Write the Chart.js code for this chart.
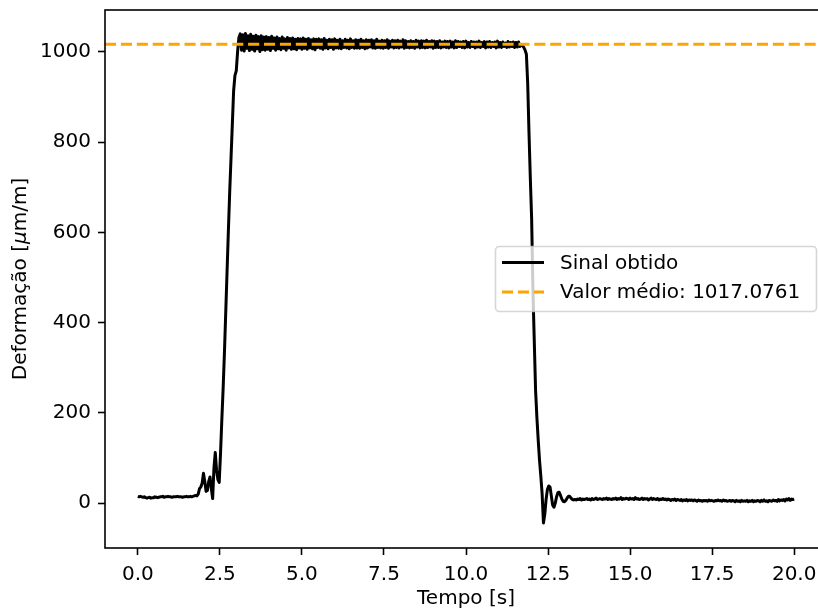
<!DOCTYPE html>
<html>
<head>
<meta charset="utf-8">
<script src="https://cdn.jsdelivr.net/npm/chart.js@4/dist/chart.umd.min.js"></script>
<style>
  html, body { margin: 0; padding: 0; background: #fff; overflow: hidden; }
  #wrap { width: 830px; height: 609px; position: relative; }
</style>
</head>
<body>
<div id="wrap"><canvas id="c" width="830" height="609"></canvas></div>
<script>
// Strain gauge record, sampled every 0.04 s (0 .. 20 s)
const sampleInterval = 0.04;

const signal = [
  // 0.00 – 1.76 s : baseline
  15,14,15,14,13,14,12,11,12,13,
  11,12,12,14,13,12,13,14,14,15,
  13,14,14,15,14,14,13,14,14,14,
  15,14,14,14,13,14,14,15,14,14,
  15,14,15,16,17,
  // 1.80 – 3.08 s : loading ramp
  16,20,32,36,44,66,48,26,28,48,
  58,32,10,78,112,72,52,46,110,185,
  255,335,425,515,605,690,765,840,915,948,
  958,1000,1032,
  // 3.12 – 11.68 s : loaded plateau
  1040,1004,1038,1002,1041,1008,1036,1003,1039,1006,
  1035,1002,1037,1007,1034,1001,1036,1005,1033,1004,
  1034,1006,1032,1003,1035,1008,1031,1004,1033,1007,
  1030,1005,1033,1008,1029,1004,1032,1009,1030,1006,
  1031,1007,1028,1005,1030,1009,1029,1006,1031,1008,
  1028,1006,1030,1009,1027,1007,1029,1005,1028,1010,
  1029,1008,1027,1006,1030,1009,1026,1007,1028,1010,
  1027,1006,1029,1009,1026,1008,1028,1007,1025,1010,
  1028,1009,1026,1007,1029,1010,1025,1008,1027,1009,
  1026,1008,1028,1010,1025,1007,1027,1009,1026,1011,
  1027,1009,1025,1008,1028,1010,1024,1009,1026,1008,
  1025,1010,1027,1008,1024,1011,1026,1009,1025,1010,
  1026,1009,1024,1011,1027,1008,1025,1010,1023,1009,
  1025,1010,1023,1008,1026,1011,1024,1009,1025,1010,
  1024,1009,1026,1010,1023,1011,1025,1008,1024,1010,
  1023,1010,1025,1009,1022,1011,1024,1010,1023,1009,
  1024,1011,1022,1009,1025,1010,1023,1012,1022,1010,
  1023,1009,1024,1011,1021,1010,1023,1012,1022,1009,
  1022,1011,1024,1010,1021,1012,1023,1009,1022,1011,
  1023,1010,1021,1012,1022,1009,1024,1011,1021,1010,
  1022,1012,1020,1010,1023,1011,1021,1012,1022,1010,
  1021,1011,1022,1012,1015,
  // 11.72 – 13.28 s : unloading and ringing
  1014,1010,1004,995,930,820,720,630,470,360,
  250,190,140,95,60,20,-44,-25,8,30,
  38,36,16,-4,-9,0,14,23,24,17,
  9,4,3,6,11,15,15,11,8,7,
  // 13.32 – 20.00 s : residual baseline
  8,7,9,8,10,7,9,8,9,10,
  8,9,7,10,8,9,11,8,9,10,
  9,8,10,9,11,8,10,9,8,10,
  9,11,8,10,9,12,8,10,9,11,
  10,8,11,9,10,8,12,9,10,8,
  9,11,8,10,9,10,7,9,11,8,
  10,9,8,10,7,9,8,10,8,9,
  7,9,8,6,8,7,9,6,8,7,
  6,8,5,7,6,8,5,7,6,7,
  5,7,6,4,7,5,6,4,6,5,
  6,4,7,5,6,5,4,6,5,7,
  5,6,4,7,5,6,4,5,6,4,
  6,5,3,6,4,5,3,6,4,5,
  4,6,3,5,4,6,3,5,4,6,
  5,3,6,4,7,4,5,3,6,5,
  4,7,5,6,4,8,5,7,6,8,
  5,9,7,10,6,9,8,9
];

const meanValue = 1017.0761;
const xTicks = [0, 2.5, 5, 7.5, 10, 12.5, 15, 17.5, 20];
const yTicks = [0, 200, 400, 600, 800, 1000];
const xRange = [-1, 21];
const yRange = [-99.5, 1093];
const seriesLabels = ['Sinal obtido', 'Valor médio: ' + meanValue.toFixed(4)];
const xTitle = 'Tempo [s]';
const yTitleParts = [['Deformação [', false], ['μ', true], ['m/m]', false]];

const FONT = "'DejaVu Sans', 'Liberation Sans', sans-serif";
const SIGNAL_COLOR = '#000000';
const MEAN_COLOR = '#FFA500';

Chart.defaults.font.family = FONT;
Chart.defaults.font.size = 20;
Chart.defaults.color = '#000';

// spines, axis titles and the legend box
const decorations = {
  id: 'decorations',
  afterDatasetsDraw(chart) {
    const { ctx, chartArea: a } = chart;
    ctx.save();
    ctx.strokeStyle = '#000';
    ctx.lineWidth = 1.6;
    ctx.strokeRect(a.left, a.top, a.right - a.left, a.bottom - a.top);
    ctx.restore();
  },
  afterDraw(chart) {
    const { ctx, chartArea: a } = chart;
    ctx.save();
    ctx.fillStyle = '#000';
    ctx.textBaseline = 'middle';

    // x title
    ctx.font = '20px ' + FONT;
    ctx.textAlign = 'center';
    ctx.fillText(xTitle, (a.left + a.right) / 2, 599);

    // y title (rotated, with italic mu)
    const fontOf = it => (it ? 'italic ' : '') + '20px ' + FONT;
    let total = 0;
    yTitleParts.forEach(([t, it]) => { ctx.font = fontOf(it); total += ctx.measureText(t).width; });
    ctx.translate(21, (a.top + a.bottom) / 2);
    ctx.rotate(-Math.PI / 2);
    ctx.textAlign = 'left';
    let x = -total / 2;
    yTitleParts.forEach(([t, it]) => {
      ctx.font = fontOf(it);
      ctx.fillText(t, x, 0);
      x += ctx.measureText(t).width;
    });
    ctx.restore();

    // legend
    const box = { l: 495, t: 246, r: 816, b: 311, rad: 4 };
    ctx.save();
    ctx.beginPath();
    ctx.roundRect(box.l + 0.5, box.t + 0.5, box.r - box.l, box.b - box.t, box.rad);
    ctx.fillStyle = 'rgba(255,255,255,0.8)';
    ctx.fill();
    ctx.lineWidth = 1.6;
    ctx.strokeStyle = 'rgba(204,204,204,0.8)';
    ctx.stroke();

    const rows = [262.5, 292];
    chart.data.datasets.forEach(ds => {
      const y = rows[ds.legendRow];
      ctx.beginPath();
      ctx.setLineDash(ds.borderDash || []);
      ctx.lineWidth = ds.borderWidth;
      ctx.strokeStyle = ds.borderColor;
      ctx.lineCap = 'butt';
      ctx.moveTo(502, y);
      ctx.lineTo(544, y);
      ctx.stroke();
      ctx.setLineDash([]);
      ctx.fillStyle = '#000';
      ctx.font = '20px ' + FONT;
      ctx.textAlign = 'left';
      ctx.textBaseline = 'middle';
      ctx.fillText(ds.label, 560, y + 1);
    });
    ctx.restore();
  }
};

new Chart(document.getElementById('c'), {
  type: 'line',
  data: {
    datasets: [
      {
        label: seriesLabels[0],
        legendRow: 0,
        data: signal.map((v, i) => ({ x: +(i * sampleInterval).toFixed(2), y: v })),
        borderColor: SIGNAL_COLOR,
        borderWidth: 3,
        borderJoinStyle: 'round',
        pointRadius: 0,
        tension: 0,
        order: 1
      },
      {
        label: seriesLabels[1],
        legendRow: 1,
        data: [{ x: xRange[0], y: meanValue }, { x: xRange[1], y: meanValue }],
        borderColor: MEAN_COLOR,
        borderWidth: 3,
        borderDash: [11.1, 4.8],
        borderCapStyle: 'butt',
        pointRadius: 0,
        order: 0
      }
    ]
  },
  options: {
    responsive: false,
    animation: false,
    devicePixelRatio: 1,
    layout: { padding: { left: 0, right: 3, top: 10, bottom: 0 } },
    plugins: { legend: { display: false }, tooltip: { enabled: false } },
    scales: {
      x: {
        type: 'linear',
        min: xRange[0],
        max: xRange[1],
        afterBuildTicks: s => { s.ticks = xTicks.map(v => ({ value: v })); },
        afterFit: s => { s.height = 61; s.paddingLeft = 0; s.paddingRight = 0; },
        grid: { display: true, drawOnChartArea: false, drawTicks: true, tickLength: 7, tickWidth: 1.6, tickColor: '#000' },
        border: { display: false },
        ticks: { color: '#000', padding: 8, maxRotation: 0, autoSkip: false, callback: v => Number(v).toFixed(1) }
      },
      y: {
        type: 'linear',
        min: yRange[0],
        max: yRange[1],
        afterBuildTicks: s => { s.ticks = yTicks.map(v => ({ value: v })); },
        afterFit: s => { s.width = 105; s.paddingTop = 0; s.paddingBottom = 0; },
        grid: { display: true, drawOnChartArea: false, drawTicks: true, tickLength: 7, tickWidth: 1.6, tickColor: '#000' },
        border: { display: false },
        ticks: { color: '#000', padding: 7, autoSkip: false, callback: v => String(v) }
      }
    }
  },
  plugins: [decorations]
});
</script>
</body>
</html>
